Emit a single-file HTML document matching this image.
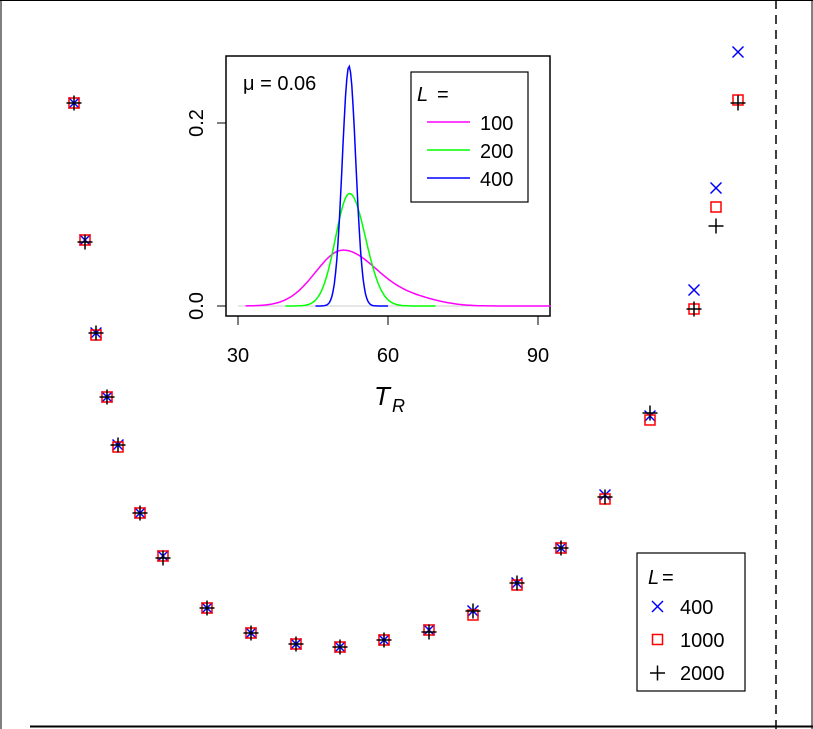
<!DOCTYPE html><html><head><style>body{margin:0;background:#fff}svg{display:block}text{font-family:"Liberation Sans",sans-serif}</style></head><body>
<svg width="813" height="729" xmlns="http://www.w3.org/2000/svg">
<rect width="813" height="729" fill="#fff"/>
<line x1="0" y1="0.5" x2="813" y2="0.5" stroke="#000"/>
<line x1="1" y1="0" x2="1" y2="729" stroke="#000"/>
<line x1="812" y1="0" x2="812" y2="729" stroke="#000"/>
<line x1="30" y1="726.5" x2="813" y2="726.5" stroke="#000" stroke-width="2"/>
<line x1="776" y1="0" x2="776" y2="729" stroke="#000" stroke-width="1.5" stroke-dasharray="9,6"/>
<g id="pts"></g>
<!-- legend -->
<rect x="637" y="553" width="108" height="138" fill="#fff" stroke="#000" stroke-width="1.2"/>
<text x="648" y="584" font-family="Liberation Serif" font-style="italic" font-size="20">L</text><text x="662" y="584" font-size="20">=</text>
<text x="680" y="614" font-size="20">400</text>
<text x="680" y="647" font-size="20">1000</text>
<text x="680" y="680" font-size="20">2000</text>
<path d="M652,601l11,11M663,601l-11,11" stroke="#00f" stroke-width="1.5"/>
<rect x="652.5" y="634.5" width="10" height="10" fill="none" stroke="#f00" stroke-width="1.5"/>
<path d="M650,673h15M657.5,665.5v15" stroke="#000" stroke-width="1.5"/>
<!-- inset -->
<rect x="226" y="56" width="324" height="260" fill="#fff" stroke="#000" stroke-width="1.5"/>
<line x1="238" y1="306" x2="550" y2="306" stroke="#ccc"/>
<g id="curves" fill="none" stroke-width="1.5"></g>
<line x1="238" y1="316" x2="538" y2="316" stroke="#000"/>
<path d="M238,316v9M388,316v9M538,316v9M226,306h-9M226,123h-9" stroke="#000"/>
<text x="238" y="362" font-size="20" text-anchor="middle">30</text>
<text x="388" y="362" font-size="20" text-anchor="middle">60</text>
<text x="538" y="362" font-size="20" text-anchor="middle">90</text>
<text transform="translate(203,306) rotate(-90)" font-size="20" text-anchor="middle">0.0</text>
<text transform="translate(203,123) rotate(-90)" font-size="20" text-anchor="middle">0.2</text>
<text x="374" y="405" font-family="Liberation Serif" font-style="italic" font-size="26">T</text>
<text x="392" y="412" font-family="Liberation Serif" font-style="italic" font-size="18">R</text>
<text x="243" y="90" font-family="Liberation Serif" font-size="20">μ = 0.06</text>
<rect x="411" y="72" width="117" height="130" fill="#fff" stroke="#000" stroke-width="1.2"/>
<text x="417" y="101" font-family="Liberation Serif" font-style="italic" font-size="20">L</text><text x="437" y="101" font-size="20">=</text>
<line x1="427" y1="122" x2="470" y2="122" stroke="#f0f" stroke-width="1.5"/>
<line x1="427" y1="150" x2="470" y2="150" stroke="#0f0" stroke-width="1.5"/>
<line x1="427" y1="178" x2="470" y2="178" stroke="#00f" stroke-width="1.5"/>
<text x="480" y="130" font-size="20">100</text>
<text x="480" y="158" font-size="20">200</text>
<text x="480" y="186" font-size="20">400</text>
</svg>
<script>
var P=[[74,103,103,103],[85,240,240,242],[96,333,335,333],[107,397,397,397],[118,445,447,445],[140,513,513,513],[163,556,556,558],[207,608,608,608],[251,633,633,633],[296,644,644,644],[340,647,647,647],[384,640,640,640],[429,630,630,632],[473,611,615,611],[517,583,585,583],[561,548,548,548],[605,495,499,497],[650,416,420,413],[694,290,309,309],[716,188,207,226],[738,52,100,103]];
var s='';P.forEach(function(p){var x=p[0];
s+='<path d="M'+(x-5.5)+','+(p[1]-5.5)+'l11,11M'+(x+5.5)+','+(p[1]-5.5)+'l-11,11" stroke="#00f" stroke-width="1.5"/>';
s+='<rect x="'+(x-5)+'" y="'+(p[2]-5)+'" width="10" height="10" fill="none" stroke="#f00" stroke-width="1.5"/>';
s+='<path d="M'+(x-7.5)+','+p[3]+'h15M'+x+','+(p[3]-7.5)+'v15" stroke="#000" stroke-width="1.5"/>';});
document.getElementById('pts').innerHTML=s;
function X(t){return 238+(t-30)*5}function Y(v){return 306-v*915}
function g(t,m,sd){return Math.exp(-0.5*Math.pow((t-m)/sd,2))}
function curve(a,b,f,c){var d='';for(var t=a;t<=b;t+=0.25){d+=(d?'L':'M')+X(t).toFixed(1)+','+Y(f(t)).toFixed(1);}return '<path d="'+d+'" stroke="'+c+'"/>';}
var c='';
c+=curve(31.5,92.5,function(t){return 0.061*g(t,51,t<51?5.5:7)+0.006*g(t,66,5)},'#f0f');
c+=curve(39.5,69.5,function(t){return 0.123*g(t,52.3,t<52.3?2.8:3.2)},'#0f0');
c+=curve(45.5,60,function(t){return 0.262*g(t,52.2,1.35)},'#00f');
document.getElementById('curves').innerHTML=c;
</script>
</body></html>
